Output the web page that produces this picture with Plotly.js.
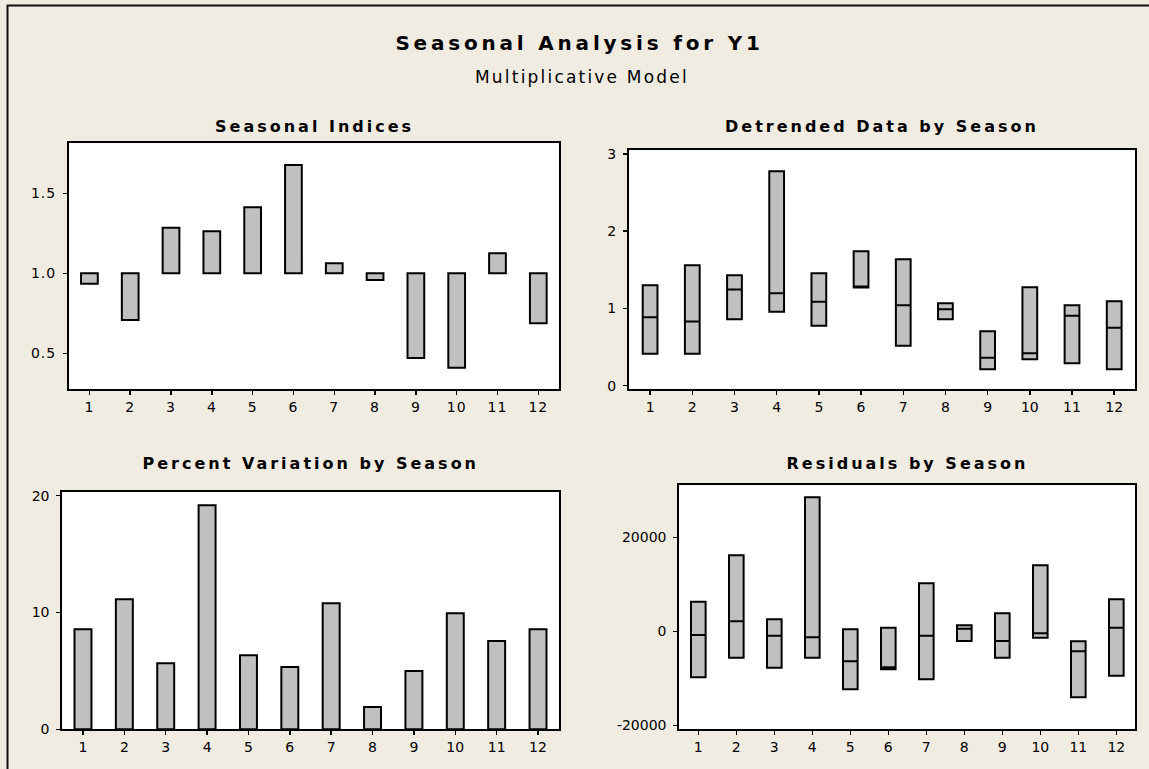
<!DOCTYPE html>
<html>
<head>
<meta charset="utf-8">
<script src="https://cdn.plot.ly/plotly-3.0.1.min.js"></script>
<style>
html, body { margin: 0; padding: 0; background: #f0ece2; }
#chart { width: 1149px; height: 769px; }
.xtick text, .ytick text { letter-spacing: 1px; }
g.annotation[data-index="0"] text { letter-spacing: 3.8px; }
g.annotation[data-index="1"] text { letter-spacing: 2.2px; }
g.annotation[data-index="2"] text,
g.annotation[data-index="3"] text,
g.annotation[data-index="4"] text,
g.annotation[data-index="5"] text { letter-spacing: 3px; }
</style>
</head>
<body>
<div id="chart"></div>
<script>
// ---- data ----
const seasons = [1, 2, 3, 4, 5, 6, 7, 8, 9, 10, 11, 12];
const seasonLabels = ['1', '2', '3', '4', '5', '6', '7', '8', '9', '10', '11', '12'];

// Seasonal indices (bars drawn from 1.0)
const seasonalIndices = [0.935, 0.708, 1.285, 1.263, 1.413, 1.677, 1.063, 0.958, 0.471, 0.410, 1.125, 0.688];
const indexBase = 1.0;

// Detrended data by season (low / median / high)
const detrendLow  = [0.415, 0.415, 0.860, 0.959, 0.777, 1.270, 0.518, 0.860, 0.212, 0.342, 0.290, 0.212];
const detrendMed  = [0.886, 0.830, 1.244, 1.197, 1.088, 1.285, 1.041, 0.990, 0.363, 0.420, 0.907, 0.751];
const detrendHigh = [1.300, 1.560, 1.430, 2.778, 1.456, 1.741, 1.637, 1.067, 0.704, 1.275, 1.041, 1.093];

// Percent variation by season
const percentVariation = [8.56, 11.13, 5.65, 19.18, 6.34, 5.33, 10.79, 1.91, 4.99, 9.93, 7.56, 8.56];

// Residuals by season (low / median / high)
const residLow  = [-9800, -5618, -7746, -5618, -12342, -8086, -10214, -2064, -5618, -1362, -14045, -9448];
const residMed  = [-800, 2128, -936, -1277, -6384, -7661, -936, 553, -2064, -426, -4256, 766];
const residHigh = [6300, 16173, 2554, 28515, 426, 766, 10214, 1277, 3830, 14045, -2128, 6810];

// tick labels
const idxTicks = [0.5, 1.0, 1.5];
const detTicks = [0, 1, 2, 3];
const pctTicks = [0, 10, 20];
const resTicks = [-20000, 0, 20000];
const resTickText = ['-20000', '0', '20000'];

// titles
const mainTitle = 'Seasonal Analysis for Y1';
const subTitle = 'Multiplicative Model';
const panelTitles = ['Seasonal Indices', 'Detrended Data by Season', 'Percent Variation by Season', 'Residuals by Season'];

// ---- styling ----
const W = 1149, H = 769;
const FONT = 'DejaVu Sans';
const fill = '#c0c0c0';
const px = v => v / W;
const py = v => 1 - v / H;

const baseAxis = {
  showline: true, linecolor: '#000', linewidth: 2, mirror: true,
  ticks: 'outside', ticklen: 4, tickwidth: 1.5, tickcolor: '#000',
  showgrid: false, zeroline: false, fixedrange: true,
  tickfont: { family: FONT, size: 14, color: '#000' }
};
function xAx(domain, anchor) {
  return Object.assign({}, baseAxis, {
    domain: domain, anchor: anchor, range: [0.5, 12.5],
    tickmode: 'array', tickvals: seasons, ticktext: seasonLabels
  });
}
function yAx(domain, anchor, range, vals, text) {
  const a = Object.assign({}, baseAxis, {
    domain: domain, anchor: anchor, range: range,
    tickmode: 'array', tickvals: vals, ticklabelstandoff: 4
  });
  if (text) a.ticktext = text;
  return a;
}

const traces = [
  {
    type: 'bar', x: seasons, y: seasonalIndices.map(v => v - indexBase), base: indexBase,
    width: 0.41, marker: { color: fill, line: { color: '#000', width: 2 } },
    xaxis: 'x', yaxis: 'y', hoverinfo: 'skip'
  },
  {
    type: 'box', x: seasons, q1: detrendLow, median: detrendMed, q3: detrendHigh,
    lowerfence: detrendLow, upperfence: detrendHigh, width: 0.35, whiskerwidth: 0,
    boxpoints: false, fillcolor: fill, line: { color: '#000', width: 2 },
    xaxis: 'x2', yaxis: 'y2', hoverinfo: 'skip'
  },
  {
    type: 'bar', x: seasons, y: percentVariation,
    width: 0.41, marker: { color: fill, line: { color: '#000', width: 2 } },
    xaxis: 'x3', yaxis: 'y3', hoverinfo: 'skip'
  },
  {
    type: 'box', x: seasons, q1: residLow, median: residMed, q3: residHigh,
    lowerfence: residLow, upperfence: residHigh, width: 0.385, whiskerwidth: 0,
    boxpoints: false, fillcolor: fill, line: { color: '#000', width: 2 },
    xaxis: 'x4', yaxis: 'y4', hoverinfo: 'skip'
  }
];

const ann = (text, x, y, size, bold) => ({
  text: text, xref: 'paper', yref: 'paper', x: x, y: y,
  xanchor: 'center', yanchor: 'middle', showarrow: false,
  font: { family: FONT, size: size, color: '#000', weight: bold ? 'bold' : 'normal' }
});

const layout = {
  width: W, height: H,
  margin: { l: 0, r: 0, t: 0, b: 0, pad: 0 },
  paper_bgcolor: '#f0ece2', plot_bgcolor: '#ffffff',
  showlegend: false,
  xaxis:  xAx([px(69), px(558.7)], 'y'),
  yaxis:  yAx([py(389), py(143.3)], 'x', [0.277, 1.8125], idxTicks, idxTicks.map(v => v.toFixed(1))),
  xaxis2: xAx([px(629), px(1135.3)], 'y2'),
  yaxis2: yAx([py(388.7), py(150)], 'x2', [-0.039, 3.052], detTicks),
  xaxis3: xAx([px(62.3), px(558.7)], 'y3'),
  yaxis3: yAx([py(729.3), py(492)], 'x3', [0, 20.31], pctTicks),
  xaxis4: xAx([px(679.3), px(1135.3)], 'y4'),
  yaxis4: yAx([py(729.3), py(485.3)], 'x4', [-20851, 31064], resTicks, resTickText),
  annotations: [
    ann(mainTitle, px(579), py(43.5), 20, true),
    ann(subTitle, px(582), py(77), 17, false),
    ann(panelTitles[0], px(314), py(126), 16, true),
    ann(panelTitles[1], px(882), py(126), 16, true),
    ann(panelTitles[2], px(310.5), py(463), 16, true),
    ann(panelTitles[3], px(907), py(463), 16, true)
  ],
  shapes: [
    { type: 'rect', xref: 'paper', yref: 'paper', x0: px(7.5), x1: 1.05, y0: -0.05, y1: py(5.5),
      line: { color: '#111', width: 2 }, fillcolor: 'rgba(0,0,0,0)', layer: 'below' }
  ]
};

Plotly.newPlot('chart', traces, layout, { displayModeBar: false, staticPlot: true });
</script>
</body>
</html>
